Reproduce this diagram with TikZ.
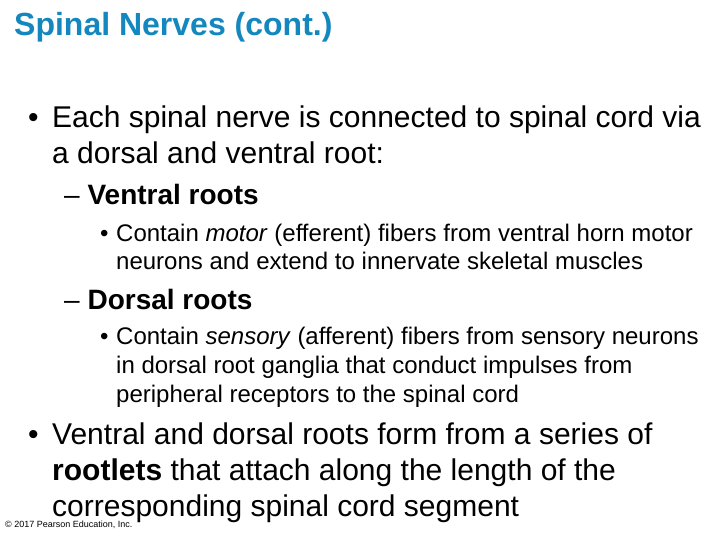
\documentclass[tikz,border=0pt]{standalone}
\usepackage{fontspec}
\setmainfont{Liberation Sans}
\definecolor{titleblue}{RGB}{20,135,190}
\begin{document}
\begin{tikzpicture}[x=1pt,y=-1pt,%
% common options for the text lines:
line/.style = {anchor=base west, inner sep=0},
big/.style = {line, font=\fontsize{30}{34}\selectfont},
head/.style = {line, font=\fontsize{28}{32}\selectfont},
small/.style = {line, font=\fontsize{24}{28}\selectfont}]
\useasboundingbox (0,0) rectangle (720,540);
\node[line,font=\fontsize{32}{36}\selectfont\bfseries,text=titleblue] (T) at (14,36) {Spinal Nerves (cont.)};
\node[big] (P0) at (28,128) {•};
\node[big] (P1) at (52,128) {Each spinal nerve is connected to spinal cord via};
\node[big] (P2) at (52,164) {a dorsal and ventral root:};
\node[head] (V0) at (64,205) {– \textbf{Ventral roots}};
\node[small] (V1) at (100,241) {•};
\node[small] (V2) at (116,241) {Contain \emph{motor} (efferent) fibers from ventral horn motor};
\node[small] (V3) at (116,269) {neurons and extend to innervate skeletal muscles};
\node[head] (D0) at (64,309) {– \textbf{Dorsal roots}};
\node[small] (D1) at (100,344) {•};
\node[small] (D2) at (116,344) {Contain \emph{sensory} (afferent) fibers from sensory neurons};
\node[small] (D3) at (116,373) {in dorsal root ganglia that conduct impulses from};
\node[small] (D4) at (116,402) {peripheral receptors to the spinal cord};
\node[big] (Q0) at (28,444) {•};
\node[big] (Q1) at (52,444) {Ventral and dorsal roots form from a series of};
\node[big] (Q2) at (52,480) {\textbf{rootlets} that attach along the length of the};
\node[big] (Q3) at (52,516) {corresponding spinal cord segment};
\node[line,font=\fontsize{9}{10}\selectfont] (C) at (5,527) {© 2017 Pearson Education, Inc.};
\end{tikzpicture}
\end{document}
